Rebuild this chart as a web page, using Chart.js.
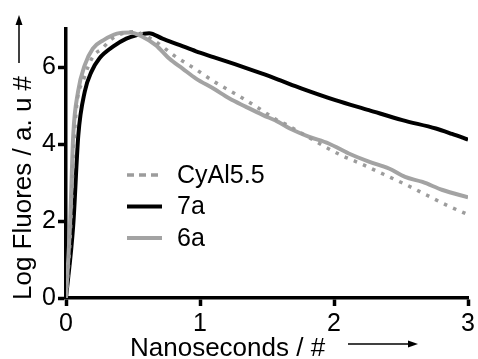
<!DOCTYPE html>
<html>
<head>
<meta charset="utf-8">
<script src="https://cdn.jsdelivr.net/npm/chart.js@4/dist/chart.umd.min.js"></script>
<style>
  html, body { margin: 0; padding: 0; background: #fff; }
  #wrap { width: 478px; height: 359px; }
</style>
</head>
<body>
<div id="wrap"><canvas id="decayChart"></canvas></div>
<script>
// series (x = ns, y = log fluorescence)
const cyTime = [0, 0.03, 0.055, 0.08, 0.13, 0.2, 0.27, 0.33, 0.39, 0.5, 0.66, 0.81, 0.96, 1.11, 1.27, 1.42, 1.57, 1.65, 1.89, 2.05, 2.21, 2.37, 2.53, 2.69, 2.85, 2.98];
const cyLog  = [0, 1.5, 3.7, 5.02, 5.67, 6.28, 6.49, 6.71, 6.84, 6.93, 6.69, 6.30, 5.97, 5.62, 5.30, 4.98, 4.64, 4.50, 4.02, 3.72, 3.48, 3.22, 2.96, 2.68, 2.40, 2.20];

const t7a   = [0, 0.054, 0.092, 0.14, 0.19, 0.25, 0.35, 0.45, 0.53, 0.62, 0.72, 0.85, 0.97, 1.10, 1.22, 1.34, 1.47, 1.60, 1.76, 2.01, 2.26, 2.51, 2.76, 2.88, 3.0];
const log7a = [0, 1.9, 4.24, 5.37, 5.89, 6.24, 6.54, 6.75, 6.84, 6.89, 6.75, 6.58, 6.42, 6.27, 6.13, 5.99, 5.83, 5.66, 5.45, 5.15, 4.89, 4.63, 4.41, 4.27, 4.12];

const t6a   = [0, 0.03, 0.054, 0.09, 0.14, 0.2, 0.28, 0.38, 0.48, 0.57, 0.67, 0.77, 0.87, 0.97, 1.10, 1.22, 1.34, 1.47, 1.58, 1.67, 1.81, 1.96, 2.11, 2.26, 2.41, 2.53, 2.66, 2.81, 3.0];
const log6a = [0, 1.9, 4.24, 5.37, 6.06, 6.49, 6.71, 6.88, 6.91, 6.80, 6.58, 6.23, 5.97, 5.71, 5.45, 5.19, 4.98, 4.76, 4.59, 4.41, 4.20, 4.02, 3.76, 3.55, 3.37, 3.15, 3.02, 2.81, 2.62];

const xTicks = [0, 1, 2, 3];
const yTicks = [0, 2, 4, 6];

const FONT = '"Liberation Sans", Arial, sans-serif';

function pts(xs, ys) {
  return xs.map((v, i) => ({ x: v, y: ys[i] }));
}

function arrow(ctx, x1, y1, x2, y2) {
  const a = Math.atan2(y2 - y1, x2 - x1);
  ctx.save();
  ctx.strokeStyle = '#000';
  ctx.fillStyle = '#000';
  ctx.lineWidth = 1.5;
  ctx.beginPath();
  ctx.moveTo(x1, y1);
  ctx.lineTo(x2 - 6 * Math.cos(a), y2 - 6 * Math.sin(a));
  ctx.stroke();
  ctx.translate(x2, y2);
  ctx.rotate(a);
  ctx.beginPath();
  ctx.moveTo(0, 0);
  ctx.lineTo(-10, -3.5);
  ctx.lineTo(-10, 3.5);
  ctx.closePath();
  ctx.fill();
  ctx.restore();
}

// axis titles, arrows and the in-plot legend
const decor = {
  id: 'decor',
  afterDraw(chart) {
    const ctx = chart.ctx;
    const area = chart.chartArea;
    ctx.save();
    ctx.fillStyle = '#000';
    ctx.font = '26px ' + FONT;
    ctx.textAlign = 'left';
    ctx.textBaseline = 'alphabetic';

    // x title
    ctx.fillText('Nanoseconds / #', area.left + 64, area.bottom + 58);
    arrow(ctx, area.left + 282, area.bottom + 46, area.left + 352, area.bottom + 46);

    // y title
    ctx.save();
    ctx.translate(31, area.bottom + 2);
    ctx.rotate(-Math.PI / 2);
    ctx.fillText('Log Fluores / a. u #', 0, 0);
    ctx.restore();
    arrow(ctx, 19, 63, 19, 15);

    // legend
    ctx.font = '25px ' + FONT;
    ctx.textBaseline = 'middle';
    chart.data.datasets.forEach((ds, i) => {
      const ly = area.top + 146 + i * 31.5;
      ctx.save();
      ctx.strokeStyle = ds.borderColor;
      ctx.lineWidth = ds.borderWidth;
      ctx.setLineDash(ds.borderDash && ds.borderDash.length ? [7, 5] : []);
      ctx.beginPath();
      ctx.moveTo(area.left + 61, ly);
      ctx.lineTo(area.left + 96, ly);
      ctx.stroke();
      ctx.restore();
      ctx.fillText(ds.label, area.left + 111, ly + 1);
    });
    ctx.restore();
  }
};

const ctx = document.getElementById('decayChart');

new Chart(ctx, {
  type: 'line',
  data: {
    datasets: [
      {
        label: 'CyAl5.5',
        data: pts(cyTime, cyLog),
        borderColor: '#9c9c9c',
        borderWidth: 3.5,
        borderDash: [3.5, 6.5],
        order: 0
      },
      {
        label: '7a',
        data: pts(t7a, log7a),
        borderColor: '#000000',
        borderWidth: 4,
        order: 2
      },
      {
        label: '6a',
        data: pts(t6a, log6a),
        borderColor: '#a3a3a3',
        borderWidth: 4,
        order: 1
      }
    ]
  },
  options: {
    responsive: true,
    maintainAspectRatio: false,
    animation: false,
    layout: { padding: { top: 29, right: 9, left: 0, bottom: 0 } },
    elements: {
      point: { radius: 0 },
      line: { cubicInterpolationMode: 'monotone', fill: false, borderCapStyle: 'butt' }
    },
    plugins: {
      legend: { display: false },
      tooltip: { enabled: false }
    },
    scales: {
      x: {
        type: 'linear',
        min: 0,
        max: 3,
        afterFit: s => { s.height = 61; },
        afterBuildTicks: s => { s.ticks = xTicks.map(v => ({ value: v })); },
        border: { display: true, color: '#000', width: 3.5 },
        grid: { drawOnChartArea: false, drawTicks: true, tickLength: 8, tickColor: '#000', tickWidth: 3.5 },
        ticks: { color: '#000', font: { family: FONT, size: 25 }, padding: 3, maxRotation: 0 }
      },
      y: {
        min: 0,
        max: 7,
        afterFit: s => { s.width = 66; },
        afterBuildTicks: s => { s.ticks = yTicks.map(v => ({ value: v })); },
        border: { display: true, color: '#000', width: 3.5 },
        grid: { drawOnChartArea: false, drawTicks: true, tickLength: 8, tickColor: '#000', tickWidth: 3.5 },
        ticks: { color: '#000', font: { family: FONT, size: 25 }, padding: 2 }
      }
    }
  },
  plugins: [decor]
});
</script>
</body>
</html>
